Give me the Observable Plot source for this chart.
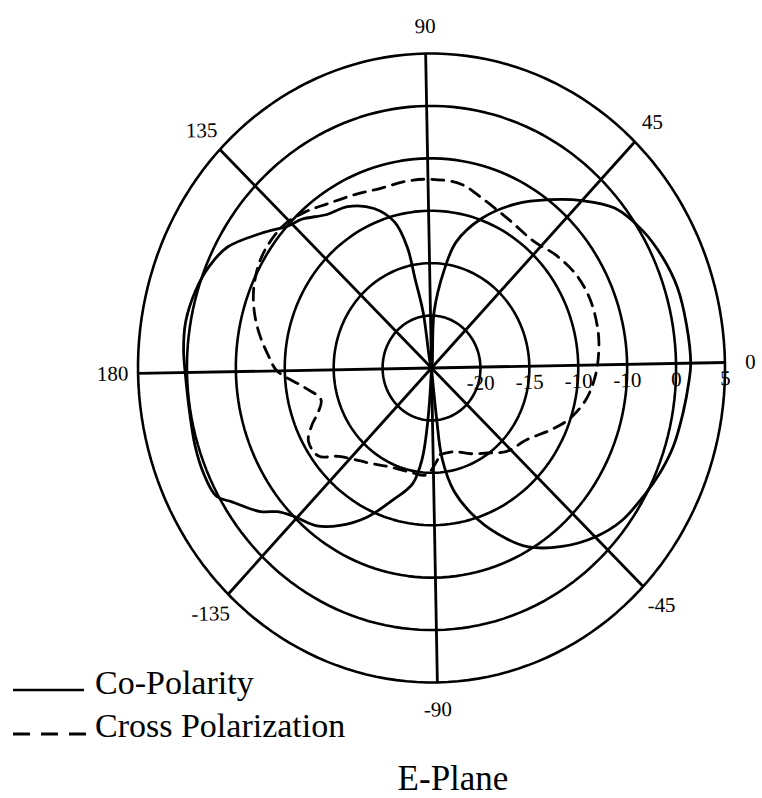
<!DOCTYPE html>
<html>
<head>
<meta charset="utf-8">
<script src="https://cdn.jsdelivr.net/npm/d3@7"></script>
<script src="https://cdn.jsdelivr.net/npm/@observablehq/plot@0.6"></script>
<style>
  html, body { margin: 0; padding: 0; background: #fff; }
  #wrap { position: relative; width: 762px; height: 798px; overflow: hidden; font-family: "Liberation Serif", "Times New Roman", serif; color: #000; }
  #chart { position: absolute; left: 0; top: 0; transform: rotate(-1.07deg); transform-origin: 431px 367.5px; }
  .txt { position: absolute; white-space: nowrap; line-height: 34px; font-size: 34px; }
  .sample { position: absolute; }
</style>
</head>
<body>
<div id="wrap">
  <div id="chart"></div>
  <svg class="sample" style="left:0;top:680px" width="100" height="20"><line x1="13" x2="84" y1="10" y2="10" stroke="#000" stroke-width="2.6"/></svg>
  <div class="txt" style="left:95px;top:666px">Co-Polarity</div>
  <svg class="sample" style="left:0;top:724px" width="100" height="20"><line x1="13" x2="86" y1="10" y2="10" stroke="#000" stroke-width="2.8" stroke-dasharray="17 11"/></svg>
  <div class="txt" style="left:95px;top:709px">Cross Polarization</div>
  <div class="txt" style="left:0;width:906px;text-align:center;top:761px;font-size:35px;line-height:35px">E-Plane</div>
</div>
<script>
// Radial axis (dB) and angular axis (degrees)
const dbMin = -25;
const dbMax = 5;
const ringDb = [-20, -15, -10, -5, 0, 5];
const ringLabels = ["-20", "-15", "-10", "-10", "0", "5"];
const spokeAngles = [0, 45, 90, 135, 180, -135, -90, -45];
const angleLabels = ["0", "45", "90", "135", "180", "-135", "-90", "-45"];

// Co-polarity pattern (angle in degrees, level in dB)
const copolAngle = [-90, -85, -84, -80, -73, -66, -61, -53, -45, -38, -30, -24, -18, -10.5, -3.6, 0, 8, 16, 23, 30, 38, 45, 52, 60, 69, 77, 81, 86, 90,
  98, 100, 101, 104, 110, 118, 125, 132, 136, 142.5, 150, 156, 162, 169, 175, 181, 189, 196, 202, 208, 211, 217, 220, 224, 231, 237, 244, 251.5, 259, 262.6, 264.7, 270];
const copolDb = [-25, -20.2, -16.3, -13, -9.8, -7.05, -5.3, -3.4, -1.8, -0.75, -0.1, 0.4, 0.8, 1.05, 1.35, 1.5, 1.4, 1.3, 0.9, 0.3, -0.8, -2.8, -4.9, -7.1, -9.8, -12.7, -15.6, -19.6, -25,
  -19.6, -16.4, -13.2, -10.6, -8.7, -7.4, -6.9, -5.6, -5.1, -3.4, -1.2, -0.3, 0.2, 0.5, 0.4, 0.15, 0.1, 0.3, 0.4, 0.2, -0.9, -2.75, -4.1, -5, -5.9, -7.3, -9.3, -11.8, -13.8, -16.3, -20.2, -25];

// Cross polarization pattern (angle in degrees, level in dB)
const crossAngle = [-85, -75, -65, -56, -47, -36, -27, -20, -11.5, -3, 5, 11, 20.5, 29.5, 39, 48, 59, 70, 79, 89,
  97, 106, 114.5, 123, 130, 136.6, 144, 150, 157, 163, 169, 175, 180, 187, 194, 199, 203, 208, 215, 220.6, 235, 246, 258, 266];
const crossDb = [-16.7, -16.7, -15.9, -15.1, -13.95, -13.1, -11.5, -10.1, -8.9, -8.2, -7.8, -7.6, -7.5, -7.7, -8.3, -9.0, -8.8, -8.1, -7.2, -7.0,
  -7.0, -7.1, -6.7, -6.1, -5.3, -4.7, -4.6, -4.8, -5.4, -6.2, -7.2, -8.3, -9.2, -11.85, -13.3, -12.66, -11.6, -10.6, -10.7, -12.3, -14.0, -14.7, -14.8, -14.8];

const R = dbMax - dbMin;
const rad = a => a * Math.PI / 180;
const polar = (a, db) => ({x: (db - dbMin) * Math.cos(rad(a)), y: (db - dbMin) * Math.sin(rad(a))});

const copol = copolAngle.map((a, i) => polar(a, copolDb[i]));
const cross = crossAngle.map((a, i) => polar(a, crossDb[i]));
cross.push(cross[0]);
const rings = ringDb.flatMap(db => d3.range(0, 361, 2).map(a => ({ring: db, ...polar(a, db)})));
const labelR = 32.6;

const chart = Plot.plot({
  width: 762,
  height: 745,
  marginTop: 53,
  marginBottom: 63,
  marginLeft: 137.5,
  marginRight: 37.5,
  x: {domain: [-R, R], axis: null},
  y: {domain: [-R, R], axis: null},
  style: {fontFamily: "'Liberation Serif', 'Times New Roman', serif", background: "#fff", color: "#000"},
  marks: [
    Plot.line(rings, {x: "x", y: "y", z: "ring", stroke: "#000", strokeWidth: 2.6}),
    Plot.link(spokeAngles, {x1: 0, y1: 0, x2: a => R * Math.cos(rad(a)), y2: a => R * Math.sin(rad(a)), stroke: "#000", strokeWidth: 2.8}),
    Plot.line(copol, {x: "x", y: "y", curve: "catmull-rom", stroke: "#000", strokeWidth: 2.8}),
    Plot.line(cross, {x: "x", y: "y", curve: "catmull-rom", stroke: "#000", strokeWidth: 2.8, strokeDasharray: "12,8"}),
    Plot.text(ringDb, {x: d => d - dbMin, y: 0, text: (d, i) => ringLabels[i], dy: 16, fontSize: 21, fill: "#000"}),
    Plot.text(spokeAngles, {x: a => labelR * Math.cos(rad(a)), y: a => labelR * Math.sin(rad(a)), text: (d, i) => angleLabels[i], fontSize: 21, fill: "#000"})
  ]
});
document.getElementById("chart").appendChild(chart);
</script>
</body>
</html>
